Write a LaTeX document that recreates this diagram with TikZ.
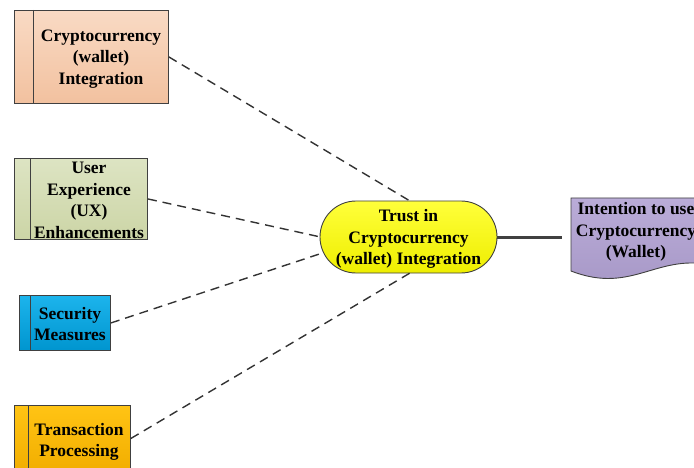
\documentclass[tikz,border=0pt]{standalone}
\usepackage{fontspec}
\setmainfont{Liberation Serif}
\usetikzlibrary{shapes.misc}
\definecolor{peachT}{HTML}{F9DAC4}
\definecolor{peachB}{HTML}{F2C19F}
\definecolor{greenT}{HTML}{DDE4C3}
\definecolor{greenB}{HTML}{CCD5A6}
\definecolor{blueT}{HTML}{1CB4EC}
\definecolor{blueB}{HTML}{0095CF}
\definecolor{orangeT}{HTML}{FFC414}
\definecolor{orangeB}{HTML}{F2AE00}
\definecolor{yelT}{HTML}{FFFF3A}
\definecolor{yelB}{HTML}{EEEE00}
\definecolor{purT}{HTML}{BAACD8}
\definecolor{purB}{HTML}{A697C6}
\definecolor{edge}{HTML}{404040}
\tikzset{
  x=1pt, y=-1pt,
  boxshape/.style={draw=edge, line width=0.9pt, rectangle, inner sep=0pt, anchor=north west},
  lbl/.style={font=\fontsize{17.5}{21.5}\selectfont\bfseries, align=center, inner sep=0pt},
  dashline/.style={draw=black!80, line width=1.4pt, dash pattern=on 9pt off 6pt},
  strip/.style={draw=edge, line width=0.9pt}
}
\begin{document}
\begin{tikzpicture}
\useasboundingbox (0,0) rectangle (694,468);
\clip (0,0) rectangle (694,468);
% box 1
\node[boxshape, top color=peachT, bottom color=peachB, minimum width=154pt, minimum height=93pt] (b1) at (14,10) {};
\draw[strip] (33,10) -- (33,103);
\node[lbl] (t1) at (101,59) {Cryptocurrency\\(wallet)\\Integration};
% box 2
\node[boxshape, top color=greenT, bottom color=greenB, minimum width=133pt, minimum height=81pt] (b2) at (14,158) {};
\draw[strip] (30,158) -- (30,239);
\node[lbl] (t2) at (89,200.5) {User\\Experience\\(UX)\\Enhancements};
% box 3
\node[boxshape, top color=blueT, bottom color=blueB, minimum width=91pt, minimum height=55pt] (b3) at (19,295) {};
\draw[strip] (30,295) -- (30,350);
\node[lbl] (t3) at (70,324) {Security\\Measures};
% box 4
\node[boxshape, top color=orangeT, bottom color=orangeB, minimum width=116pt, minimum height=66pt] (b4) at (14,405) {};
\draw[strip] (28.5,405) -- (28.5,471);
\node[lbl] (t4) at (79,442) {Transaction\\Processing};
% central
\node[rounded rectangle, draw=edge, line width=0.9pt, top color=yelT, bottom color=yelB, minimum width=177pt, minimum height=72pt, inner sep=0pt] (c) at (408.5,237) {};
\node[lbl] (tc) at (408.5,239) {Trust in\\Cryptocurrency\\(wallet) Integration};
\coordinate (c1) at (410,201);
\coordinate (c2) at (320.5,237);
\coordinate (c3) at (322.5,253);
\coordinate (c4) at (410,273);
\draw[dashline] (b1.east) -- (c1);
\draw[dashline] (b2.east) -- (c2);
\draw[dashline] (b3.east) -- (c3);
\draw[dashline] (b4.east) -- (c4);
% document
\path[draw=edge, line width=0.9pt, top color=purT, bottom color=purB]
  (571,198) -- (700,198) -- (700,262) -- (694,263)
  .. controls (650,262) and (625,292) .. (571,271) -- cycle;
\node[lbl] (td) at (636,232) {Intention to use\\Cryptocurrency\\(Wallet)};
\coordinate (dl) at (562,237);
\draw[edge, line width=3pt] (c.east) -- (dl);
\end{tikzpicture}
\end{document}
